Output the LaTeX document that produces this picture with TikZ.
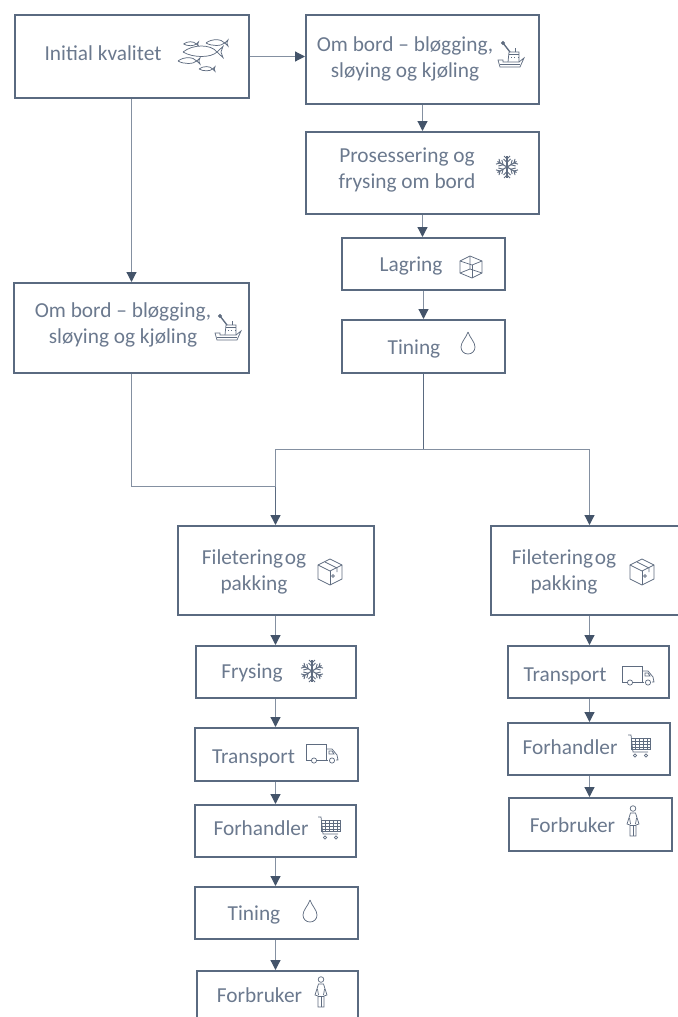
\documentclass[tikz,border=0pt]{standalone}
\usepackage{fontspec}
\setmainfont{Carlito}
\usetikzlibrary{arrows.meta}
\definecolor{slate}{HTML}{44546A}
\definecolor{boxline}{HTML}{5A6A80}
\definecolor{thinline}{HTML}{8490A1}
\definecolor{txtcol}{HTML}{6B798E}
\definecolor{iconcol}{HTML}{5F6C80}
\tikzset{
	flowbox/.style 2 args={draw=boxline,line width=1.5pt,minimum width=#1*0.75pt,minimum height=#2*0.75pt,inner sep=0pt},
	txt/.style={text=txtcol,font=\fontsize{16}{19.5}\selectfont,align=center,inner sep=0pt},
	conn/.style={draw=thinline,line width=0.9pt},
	connarrow/.style={conn,-{Triangle[length=7.5pt,width=7.5pt,slate]}},
	darkarrow/.style={draw=boxline,line width=1.1pt,-{Triangle[length=7.5pt,width=7.5pt,slate]}},
	icon/.style={draw=iconcol,line width=0.55pt},
	pics/fishy/.style={code={
		\draw[icon,fill=white] (-10,0) .. controls (-5,-4) and (4,-4) .. (7,0) -- (10,-2.8) -- (9,0) -- (10,2.8) -- (7,0) .. controls (4,3) and (-5,3) .. (-10,0);
	}},
	pics/shipicon/.style={code={
		\draw[icon] (-13,5) -- (-11,12) -- (9,12) -- (13,3) -- (8,7) -- (-8,7) -- (-8,5) -- cycle;
		\draw[icon] (-11,9) -- (9,9);
		\draw[icon] (-3,7) -- (-2,-3) -- (8,-3) -- (8,7);
		\draw[icon] (-2,-0.5) -- (8,-0.5);
		\draw[icon,dotted] (0,2) -- (8,2);
		\draw[icon] (4,-3) -- (4,-7);
		\draw[icon,line width=1pt] (-8,-12) -- (-1,-3);
		\draw[icon,fill=iconcol] (-8,-12) circle (1.6);
	}},
	pics/flake/.style={code={
		\foreach \ang in {0,60,...,300} {
			\begin{scope}[rotate=\ang]
				\draw[iconcol,line width=0.8pt] (0,0) -- (0,-11);
				\draw[iconcol,line width=0.7pt] (-3.5,-8) -- (0,-4.5) -- (3.5,-8);
				\draw[iconcol,line width=0.7pt] (-3,-11) -- (0,-8) -- (3,-11);
			\end{scope}
		}
	}},
	pics/cubeicon/.style={code={
		\draw[icon] (-1,-11) -- (11,-6) -- (11,6) -- (1,11) -- (-11,6) -- (-11,-6) -- cycle;
		\draw[icon] (-11,-6) -- (1,-2) -- (11,-6);
		\draw[icon] (1,-2) -- (1,11);
		\draw[icon] (-1,-11) -- (-1,2) -- (-11,6);
		\draw[icon] (-1,2) -- (11,6);
	}},
	pics/dropicon/.style={code={
		\draw[icon] (0,-12) .. controls (-2,-6) and (-7,-2) .. (-7,3) .. controls (-7,7) and (-4,10) .. (0,10) .. controls (4,10) and (7,7) .. (7,3) .. controls (7,-2) and (2,-6) .. (0,-12);
	}},
	pics/boxicon/.style={code={
		\draw[icon] (0,-13) -- (12,-7) -- (12,7) -- (0,13) -- (-12,7) -- (-12,-7) -- cycle;
		\draw[icon] (-12,-7) -- (0,-1) -- (12,-7);
		\draw[icon] (0,-1) -- (0,13);
		\draw[icon] (-5,-10) -- (7,-4) -- (7,0);
		\draw[icon] (3,4) circle (1.4);
	}},
	pics/truckicon/.style={code={
		\draw[icon] (-10,7) -- (-16,7) -- (-16,-9) -- (4,-9) -- (4,7) -- (-6,7);
		\draw[icon] (4,-4) -- (10,-4) -- (15,2) -- (16,7) -- (14,7);
		\draw[icon] (6,7) -- (4,7);
		\draw[icon] (7,-2) -- (10,-2) -- (12,1) -- (7,1) -- cycle;
		\draw[icon] (-8,7.5) circle (2.6);
		\draw[icon] (10,7.5) circle (2.6);
	}},
	pics/carticon/.style={code={
		\draw[icon] (-11,-11) -- (-8,-11) -- (-6,6) -- (9,6);
		\draw[icon] (-8,-8) rectangle (11,3);
		\foreach \xx in {-4,0,4,8} {\draw[icon] (\xx,-8) -- (\xx,3);}
		\foreach \yy in {-5,-2,1} {\draw[icon] (-8,\yy) -- (11,\yy);}
		\draw[icon] (-4,9.5) circle (1.6);
		\draw[icon] (7,9.5) circle (1.6);
	}},
	pics/personicon/.style={code={
		\draw[icon] (0,-12.5) circle (2.8);
		\draw[icon] (-2.5,-8) -- (2.5,-8) -- (6,3) -- (3,4) -- (3,15) -- (-3,15) -- (-3,4) -- (-6,3) -- cycle;
		\draw[icon] (0,4) -- (0,15);
		\draw[icon] (-3,4) -- (3,4);
		\draw[icon] (-3.5,-3) -- (-2.5,3);
		\draw[icon] (3.5,-3) -- (2.5,3);
	}}
}
\begin{document}
\begin{tikzpicture}[x=0.75pt,y=-0.75pt]
	\useasboundingbox (0,0) rectangle (678,1017);

	\node[flowbox={234}{83}] (initbox) at (131.5,56.5) {};
	\node[flowbox={233}{89}] (bordright) at (422.5,59.5) {};
	\node[flowbox={233}{82}] (prosbox) at (422.5,173) {};
	\node[flowbox={163}{52}] (lagerbox) at (423.5,264) {};
	\node[flowbox={163}{53}] (tinright) at (423.5,346.5) {};
	\node[flowbox={235}{90}] (bordleft) at (131.5,328) {};
	\node[flowbox={196}{89}] (filetmid) at (276,570.5) {};
	\node[flowbox={160}{52}] (frysbox) at (276,672) {};
	\node[flowbox={163}{53}] (transmid) at (276.5,754.5) {};
	\node[flowbox={161}{52}] (handelmid) at (275.5,831) {};
	\node[flowbox={163}{52}] (tinmid) at (276.5,913) {};
	\node[flowbox={161}{60}] (brukmid) at (277.5,1001) {};
	\node[flowbox={200}{89}] (filetright) at (591,570.5) {};
	\node[flowbox={161}{52}] (transright) at (588.5,672) {};
	\node[flowbox={162}{52}] (handelright) at (589,749) {};
	\node[flowbox={163}{53}] (brukright) at (590.5,824.5) {};

	\node[txt] (initlab) at (103,53) {Initial kvalitet};
	\node[txt] (bordrlab) at (405,59) {Om bord – bløgging,\\sløying og kjøling};
	\node[txt] (proslab) at (407,169.5) {Prosessering og\\frysing om bord};
	\node[txt] (lagerlab) at (411,266) {Lagring};
	\node[txt] (tinrlab) at (414,349) {Tining};
	\node[txt] (bordllab) at (123,325) {Om bord – bløgging,\\sløying og kjøling};
	\node[txt] (filetmlab) at (254,571.5) {Filetering\hspace{0.08em}og\\pakking};
	\node[txt] (fryslab) at (252,673) {Frysing};
	\node[txt] (transmlab) at (253.5,758) {Transport};
	\node[txt] (handelmlab) at (261,828) {Forhandler};
	\node[txt] (tinmlab) at (254,915) {Tining};
	\node[txt] (brukmlab) at (259.5,995) {Forbruker};
	\node[txt] (filetrlab) at (564,571.5) {Filetering\hspace{0.08em}og\\pakking};
	\node[txt] (transrlab) at (565,676) {Transport};
	\node[txt] (handelrlab) at (570,747) {Forhandler};
	\node[txt] (brukrlab) at (572.5,825) {Forbruker};

	% icons
	\pic at (217,43) [scale=1.1] {fishy};
	\pic at (191,44) [scale=0.75] {fishy};
	\pic at (203,52) [scale=2] {fishy};
	\pic at (189,61) [scale=1.1] {fishy};
	\pic at (207,69) [scale=0.8] {fishy};
	\pic at (511,55) {shipicon};
	\pic at (228,328) {shipicon};
	\pic at (507,167) {flake};
	\pic at (312,671) {flake};
	\pic at (471,267) {cubeicon};
	\pic at (468,344) {dropicon};
	\pic at (310,912) {dropicon};
	\pic at (330,572) {boxicon};
	\pic at (642,572) {boxicon};
	\pic at (322,753) {truckicon};
	\pic at (638,675) {truckicon};
	\pic at (329,828) {carticon};
	\pic at (639,746) {carticon};
	\pic at (321,992) {personicon};
	\pic at (633,821) {personicon};

	\coordinate (splitnode) at (423.5,449.5);
	\coordinate (splitmid) at (275.5,449.5);
	\coordinate (splitright) at (589.5,449.5);
	\coordinate (joinleft) at (131.5,486.5);
	\coordinate (joinmid) at (275.5,486.5);

	\draw[connarrow] (initbox.east) -- (initbox.east -| bordright.west);
	\draw[connarrow] (initbox.south) -- (initbox.south |- bordleft.north);
	\draw[connarrow] (bordright.south) -- (bordright.south |- prosbox.north);
	\draw[connarrow] (prosbox.south) -- (prosbox.south |- lagerbox.north);
	\draw[connarrow] (lagerbox.south) -- (tinright.north);
	\draw[boxline,line width=1.2pt] (tinright.south) -- (splitnode);
	\draw[conn] (splitnode) -- (splitmid) -- (joinmid);
	\draw[conn] (splitnode) -- (splitright);
	\draw[conn] (bordleft.south) -- (joinleft) -- (joinmid);
	\draw[darkarrow] (joinmid) -- (joinmid |- filetmid.north);
	\draw[connarrow] (splitright) -- (splitright |- filetright.north);
	\draw[connarrow] (joinmid |- filetmid.south) -- (joinmid |- frysbox.north);
	\draw[connarrow] (joinmid |- frysbox.south) -- (joinmid |- transmid.north);
	\draw[connarrow] (joinmid |- transmid.south) -- (joinmid |- handelmid.north);
	\draw[connarrow] (joinmid |- handelmid.south) -- (joinmid |- tinmid.north);
	\draw[connarrow] (joinmid |- tinmid.south) -- (joinmid |- brukmid.north);
	\draw[connarrow] (splitright |- filetright.south) -- (splitright |- transright.north);
	\draw[connarrow] (splitright |- transright.south) -- (splitright |- handelright.north);
	\draw[connarrow] (splitright |- handelright.south) -- (splitright |- brukright.north);
\end{tikzpicture}
\end{document}
